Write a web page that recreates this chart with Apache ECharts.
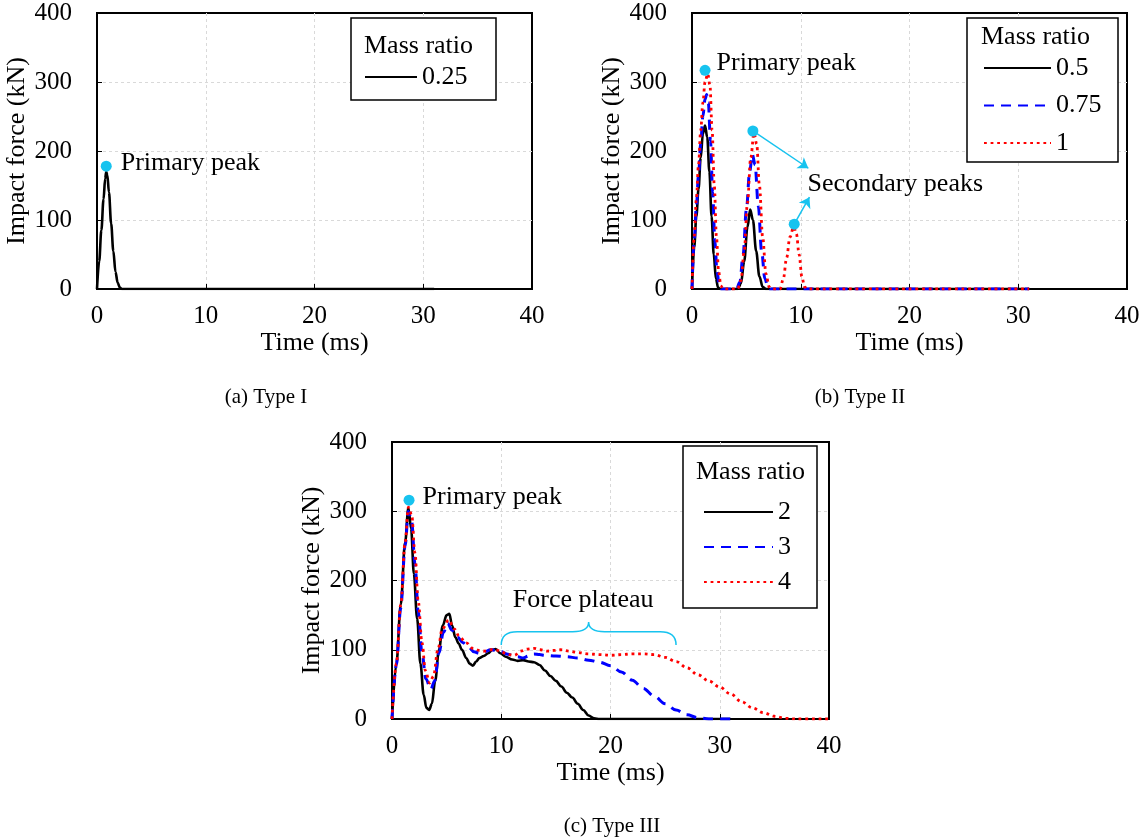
<!DOCTYPE html>
<html><head><meta charset="utf-8">
<script src="https://cdn.jsdelivr.net/npm/echarts@6/dist/echarts.min.js"></script>
<style>html,body{margin:0;padding:0;background:#fff}#c{width:1142px;height:839px}</style>
</head><body><div id="c"></div>
<script>
// ---------- data ----------
const xTicks = [0, 10, 20, 30, 40];
const yTicks = [0, 100, 200, 300, 400];
const xName = 'Time (ms)';
const yName = 'Impact force (kN)';
const legendTitle = 'Mass ratio';
const captions = ['(a) Type I', '(b) Type II', '(c) Type III'];

// Type I
const m025 = [[0,0],[0.2,40],[0.4,85],[0.6,130],[0.75,160],[0.85,170],[0.95,165],[1.1,140],[1.3,95],[1.5,55],[1.7,25],[1.9,9],[2.1,2],[2.3,0],[31,0]];
// Type II
const m05 = [[0,0],[0.2,60],[0.4,105],[0.6,145],[0.8,190],[1.0,225],[1.2,237],[1.4,220],[1.6,170],[1.8,105],[2.0,50],[2.2,15],[2.4,2],[2.6,0],[4.2,0],[4.5,8],[4.8,40],[5.1,90],[5.35,115],[5.6,100],[5.9,55],[6.2,18],[6.5,3],[6.8,0],[31,0]];
const m075 = [[0,0],[0.2,70],[0.4,120],[0.6,165],[0.8,210],[1.0,250],[1.2,275],[1.35,282],[1.5,270],[1.7,215],[1.9,140],[2.1,70],[2.3,25],[2.5,6],[2.7,0],[4.1,0],[4.4,10],[4.7,50],[5.0,115],[5.3,170],[5.55,195],[5.8,180],[6.1,120],[6.4,55],[6.7,15],[7.0,2],[7.2,0],[31,0]];
const m1 = [[0,0],[0.2,75],[0.4,130],[0.6,180],[0.8,230],[1.0,270],[1.2,300],[1.45,312],[1.65,295],[1.85,230],[2.05,150],[2.25,75],[2.45,25],[2.65,5],[2.85,0],[4.2,0],[4.5,12],[4.8,55],[5.1,125],[5.4,190],[5.7,226],[5.95,210],[6.2,150],[6.5,75],[6.8,22],[7.1,3],[7.3,0],[8.1,0],[8.4,15],[8.7,45],[9.0,75],[9.35,90],[9.6,80],[9.85,50],[10.1,18],[10.35,3],[10.6,0],[31,0]];
// Type III
const m2 = [[0,0],[0.4,80],[0.8,165],[1.2,255],[1.5,305],[1.75,275],[2.0,210],[2.3,145],[2.6,80],[2.9,35],[3.15,16],[3.4,13],[3.65,22],[3.95,55],[4.3,100],[4.65,135],[5.0,150],[5.25,152],[5.5,135],[5.8,118],[6.1,109],[6.4,100],[6.8,88],[7.1,80],[7.4,77],[7.7,83],[8.0,88],[8.4,91],[8.8,95],[9.2,100],[9.5,101],[9.9,95],[10.4,90],[11.0,86],[11.5,84],[12.0,85],[12.5,83],[13.0,82],[13.5,78],[14.0,70],[14.5,62],[15.0,55],[15.5,47],[16.0,38],[16.5,31],[17.0,22],[17.5,13],[18.0,5],[18.5,1],[19.0,0],[31,0]];
const m3 = [[0,0],[0.4,78],[0.8,160],[1.2,250],[1.5,300],[1.8,285],[2.1,225],[2.4,155],[2.75,95],[3.1,58],[3.55,43],[3.9,55],[4.3,95],[4.7,125],[5.1,138],[5.5,128],[6.0,118],[6.5,110],[7.0,104],[7.5,97],[8.0,95],[8.5,97],[9.0,100],[9.5,99],[10.0,97],[10.5,94],[11.0,92],[11.5,90],[12.0,88],[12.5,91],[13.0,94],[13.5,93],[14.0,92],[15.0,91],[16.0,90],[17.0,88],[18.0,85],[19.0,82],[20.0,77],[21.0,68],[22.0,56],[23.0,44],[24.0,33],[25.0,22],[26.0,13],[27.0,6],[28.0,2],[29.0,0],[31,0]];
const m4 = [[0,0],[0.4,80],[0.8,165],[1.2,255],[1.5,306],[1.8,295],[2.1,240],[2.4,170],[2.75,110],[3.05,70],[3.45,52],[3.8,62],[4.2,100],[4.6,130],[5.2,143],[5.7,130],[6.2,118],[6.8,110],[7.4,102],[8.0,99],[8.5,98],[9.0,100],[9.5,100],[10.0,97],[10.6,93],[11.2,92],[11.8,98],[12.4,101],[13.0,102],[13.6,100],[14.2,98],[14.8,99],[15.4,100],[16.2,98],[17.0,96],[18.0,94],[19.0,93],[20.0,92],[21.0,93],[22.0,94],[23.0,94],[24.0,93],[25.0,89],[26.0,83],[27.0,74],[28.0,64],[29.0,55],[30.0,46],[31.0,36],[32.0,25],[33.0,16],[34.0,9],[35.0,4],[36.0,1],[37.0,0],[40,0]];

// annotations (data coordinates)
const peakA = [[0.85, 178]];
const peakB = [[1.2, 317]];
const secPeaksB = [[5.6, 229], [9.4, 94]];
const secTextB = [10.63, 152];
const arrowEndsB = [[10.7, 175], [10.8, 133]];
const peakC = [[1.56, 316]];
const plateauText = [17.5, 172];
const brace = [[10, 26, 18, 107, 126, 140]]; // x1, x2, xmid, yEnd, yBar, yTip

// ---------- styling ----------
const FONT = 'Liberation Serif';
const CYAN = '#17C3EF';
const FS = 26;
const TFS = 25;
const grids = [
  {left: 97, top: 13, width: 435, height: 276},
  {left: 692, top: 13, width: 435, height: 276},
  {left: 392, top: 442, width: 437, height: 277}
];

function xAxis(i) {
  return {
    type: 'value', gridIndex: i, min: xTicks[0], max: xTicks[xTicks.length - 1], interval: xTicks[1] - xTicks[0],
    name: xName, nameLocation: 'middle', nameGap: 41,
    nameTextStyle: {fontFamily: FONT, fontSize: FS, color: '#000'},
    axisLine: {lineStyle: {color: '#000', width: 2}},
    axisTick: {inside: true, length: 5, lineStyle: {color: '#000', width: 1}},
    axisLabel: {fontFamily: FONT, fontSize: TFS, color: '#000', margin: 15},
    splitLine: {show: true, showMinLine: false, showMaxLine: false, lineStyle: {color: '#d9d9d9', type: [3, 3], width: 1}}
  };
}
function yAxis(i) {
  return {
    type: 'value', gridIndex: i, min: yTicks[0], max: yTicks[yTicks.length - 1], interval: yTicks[1] - yTicks[0],
    name: yName, nameLocation: 'middle', nameGap: 67, nameRotate: 90,
    nameTextStyle: {fontFamily: FONT, fontSize: FS, color: '#000'},
    axisLine: {lineStyle: {color: '#000', width: 2}},
    axisTick: {inside: true, length: 5, lineStyle: {color: '#000', width: 1}},
    axisLabel: {fontFamily: FONT, fontSize: TFS, color: '#000', margin: 25},
    splitLine: {show: true, showMinLine: false, showMaxLine: false, lineStyle: {color: '#d9d9d9', type: [3, 3], width: 1}}
  };
}
const styles = {
  solid: {color: '#000', width: 2.6, type: 'solid'},
  dash: {color: '#0000FF', width: 3, type: [10, 7]},
  dot: {color: '#FF0000', width: 2.8, type: [2.8, 3.8]}
};
function line(name, data, gi, st) {
  return {
    type: 'line', name: name, data: data, xAxisIndex: gi, yAxisIndex: gi,
    showSymbol: false, symbol: 'none', smooth: 0.35, smoothMonotone: 'x',
    lineStyle: styles[st], itemStyle: {color: styles[st].color},
    emphasis: {disabled: true}, z: 3
  };
}
const labelStyle = {fontFamily: FONT, fontSize: FS, color: '#000'};
function dots(data, gi, labelText, dist, dy) {
  return {
    type: 'scatter', xAxisIndex: gi, yAxisIndex: gi, symbolSize: 11, z: 10,
    itemStyle: {color: CYAN, opacity: 1}, emphasis: {disabled: true},
    data: data.map((d, k) => ({
      value: d,
      label: (k === 0 && labelText) ? Object.assign({show: true, formatter: labelText, position: 'right', distance: dist, offset: [0, dy]}, labelStyle) : {show: false}
    }))
  };
}
function textPt(pt, gi, txt, pos) {
  return {
    type: 'scatter', xAxisIndex: gi, yAxisIndex: gi, symbolSize: 0, z: 10, silent: true,
    itemStyle: {opacity: 1, color: '#000'},
    data: [{value: pt, label: Object.assign({show: true, formatter: txt, position: pos, distance: 0, opacity: 1}, labelStyle)}]
  };
}

const series = [
  line('0.25', m025, 0, 'solid'),
  line('0.5', m05, 1, 'solid'),
  line('0.75', m075, 1, 'dash'),
  line('1', m1, 1, 'dot'),
  line('2', m2, 2, 'solid'),
  line('3', m3, 2, 'dash'),
  line('4', m4, 2, 'dot'),
  dots(peakA, 0, 'Primary peak', 9, -3),
  dots(peakB, 1, 'Primary peak', 6, -7),
  Object.assign(dots(secPeaksB, 1, null), {
    markLine: {
      silent: true, symbol: ['none', 'arrow'], symbolSize: 10, animation: false,
      label: {show: false},
      lineStyle: {color: CYAN, width: 1.5, type: 'solid'},
      data: secPeaksB.map((p, k) => [{coord: p}, {coord: arrowEndsB[k]}])
    }
  }),
  textPt(secTextB, 1, 'Secondary peaks', 'right'),
  dots(peakC, 2, 'Primary peak', 8, -3),
  textPt(plateauText, 2, 'Force plateau', 'inside'),
  {
    type: 'custom', xAxisIndex: 2, yAxisIndex: 2, silent: true, z: 5,
    data: brace,
    encode: {x: [0, 1, 2], y: [3, 4, 5]},
    renderItem: function (params, api) {
      const x1 = api.value(0), x2 = api.value(1), xm = api.value(2);
      const yEnd = api.value(3), yBar = api.value(4), yTip = api.value(5);
      const a = api.coord([x1, yEnd]), b = api.coord([x2, yEnd]), m = api.coord([xm, yTip]);
      const yb = api.coord([x1, yBar])[1];
      const r = 16;
      const p = 'M' + a[0] + ',' + a[1] + ' Q' + a[0] + ',' + yb + ' ' + (a[0] + r) + ',' + yb +
        ' L' + (m[0] - r) + ',' + yb + ' Q' + m[0] + ',' + yb + ' ' + m[0] + ',' + m[1] +
        ' Q' + m[0] + ',' + yb + ' ' + (m[0] + r) + ',' + yb +
        ' L' + (b[0] - r) + ',' + yb + ' Q' + b[0] + ',' + yb + ' ' + b[0] + ',' + b[1];
      return {type: 'path', shape: {pathData: p}, style: {stroke: CYAN, fill: null, lineWidth: 1.5}};
    }
  }
];

function legend(names, left, top, w, gap) {
  return {
    data: names, orient: 'vertical', left: left, top: top, itemWidth: w, itemHeight: 14, itemGap: gap,
    selectedMode: false, padding: 0, z: 60,
    itemStyle: {opacity: 0},
    textStyle: {fontFamily: FONT, fontSize: FS, color: '#000', lineHeight: 26}
  };
}
const legendBoxes = [
  {x: 351, y: 18, w: 145, h: 82, tx: 364, ty: 46},
  {x: 967, y: 18, w: 151, h: 144, tx: 981, ty: 37},
  {x: 683, y: 446, w: 134, h: 162, tx: 696, ty: 472}
];
const graphic = [];
legendBoxes.forEach(b => {
  graphic.push({type: 'rect', shape: {x: b.x, y: b.y, width: b.w, height: b.h}, style: {fill: '#fff', stroke: '#000', lineWidth: 1.5}, z: 50});
  graphic.push({type: 'text', x: b.tx, y: b.ty, style: {text: legendTitle, font: FS + 'px ' + FONT, fill: '#000', textVerticalAlign: 'middle'}, z: 51});
});
const capPos = [[266, 397], [860, 397], [612, 826]];
captions.forEach((c, i) => {
  graphic.push({type: 'text', x: capPos[i][0], y: capPos[i][1], style: {text: c, font: '21px ' + FONT, fill: '#000', textAlign: 'center', textVerticalAlign: 'middle'}});
});

const chart = echarts.init(document.getElementById('c'), null, {renderer: 'canvas'});
chart.setOption({
  animation: false,
  backgroundColor: '#fff',
  grid: grids.map(g => Object.assign({show: true, borderColor: '#000', borderWidth: 2, containLabel: false, outerBoundsMode: 'none'}, g)),
  xAxis: [0, 1, 2].map(xAxis),
  yAxis: [0, 1, 2].map(yAxis),
  legend: [
    legend(['0.25'], 364, 64, 52, 14),
    legend(['0.5', '0.75', '1'], 983, 55, 67, 11.5),
    legend(['2', '3', '4'], 703, 499, 69, 9)
  ],
  series: series,
  graphic: graphic
});
</script></body></html>
